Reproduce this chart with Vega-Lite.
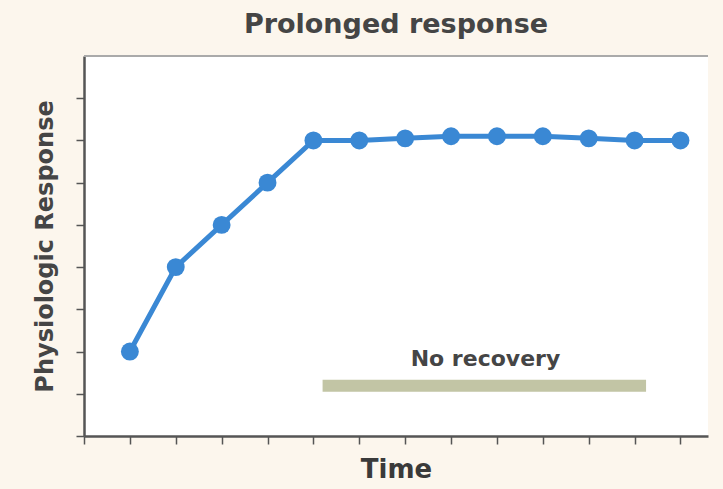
{
  "$schema": "https://vega.github.io/schema/vega-lite/v6.json",
  "autosize": {"type": "none"},
  "padding": {"left": 84, "top": 56, "right": 15, "bottom": 53},
  "width": 624,
  "height": 380,
  "background": "#fcf6ed",
  "view": {"fill": "white", "stroke": null},
  "title": {
    "text": "Prolonged response",
    "font": "DejaVu Sans",
    "fontSize": 27,
    "fontWeight": "bold",
    "color": "#454545",
    "offset": 16,
    "anchor": "middle"
  },
  "layer": [
    {
      "data": {"values": [
        {"time": 1, "response": 2.0},
        {"time": 2, "response": 4.0},
        {"time": 3, "response": 5.0},
        {"time": 4, "response": 6.0},
        {"time": 5, "response": 7.0},
        {"time": 6, "response": 7.0},
        {"time": 7, "response": 7.05},
        {"time": 8, "response": 7.1},
        {"time": 9, "response": 7.1},
        {"time": 10, "response": 7.1},
        {"time": 11, "response": 7.05},
        {"time": 12, "response": 7.0},
        {"time": 13, "response": 7.0}
      ]},
      "mark": {"type": "line", "color": "#3a88d4", "strokeWidth": 5, "point": {"filled": true, "size": 320, "color": "#3a88d4"}},
      "encoding": {
        "x": {
          "field": "time", "type": "quantitative",
          "scale": {"domain": [0, 13.6], "nice": false, "zero": false},
          "axis": {
            "title": "Time", "titleFont": "DejaVu Sans", "titleFontSize": 26, "titleFontWeight": "bold", "titleColor": "#3a3a3a", "titlePadding": 12,
            "values": [0,1,2,3,4,5,6,7,8,9,10,11,12,13],
            "labels": false, "grid": false,
            "domainColor": "#555555", "domainWidth": 2.5,
            "tickColor": "#555555", "tickWidth": 1.5, "tickSize": 8
          }
        },
        "y": {
          "field": "response", "type": "quantitative",
          "scale": {"domain": [0, 9], "nice": false},
          "axis": {
            "title": "Physiologic Response", "titleFont": "DejaVu Sans", "titleFontSize": 24, "titleFontWeight": "bold", "titleColor": "#454545", "titlePadding": 18,
            "values": [0,1,2,3,4,5,6,7,8],
            "labels": false, "grid": false,
            "domainColor": "#555555", "domainWidth": 2.5,
            "tickColor": "#555555", "tickWidth": 1.5, "tickSize": 8
          }
        }
      }
    },
    {
      "data": {"values": [{"start": 5.2, "end": 12.25, "level": 1.19}]},
      "mark": {"type": "rule", "color": "#c2c5a5", "strokeWidth": 12},
      "encoding": {
        "x": {"field": "start", "type": "quantitative"},
        "x2": {"field": "end"},
        "y": {"field": "level", "type": "quantitative"}
      }
    },
    {
      "data": {"values": [{"label": "No recovery", "mid": 8.75, "labelLevel": 1.82}]},
      "mark": {"type": "text", "font": "DejaVu Sans", "fontSize": 22, "fontWeight": "bold", "color": "#454545"},
      "encoding": {
        "x": {"field": "mid", "type": "quantitative"},
        "y": {"field": "labelLevel", "type": "quantitative"},
        "text": {"field": "label"}
      }
    },
    {
      "data": {"values": [{"edge": 9}]},
      "mark": {"type": "rule", "color": "#aaaaaa", "strokeWidth": 2},
      "encoding": {
        "y": {"field": "edge", "type": "quantitative"}
      }
    }
  ]
}
